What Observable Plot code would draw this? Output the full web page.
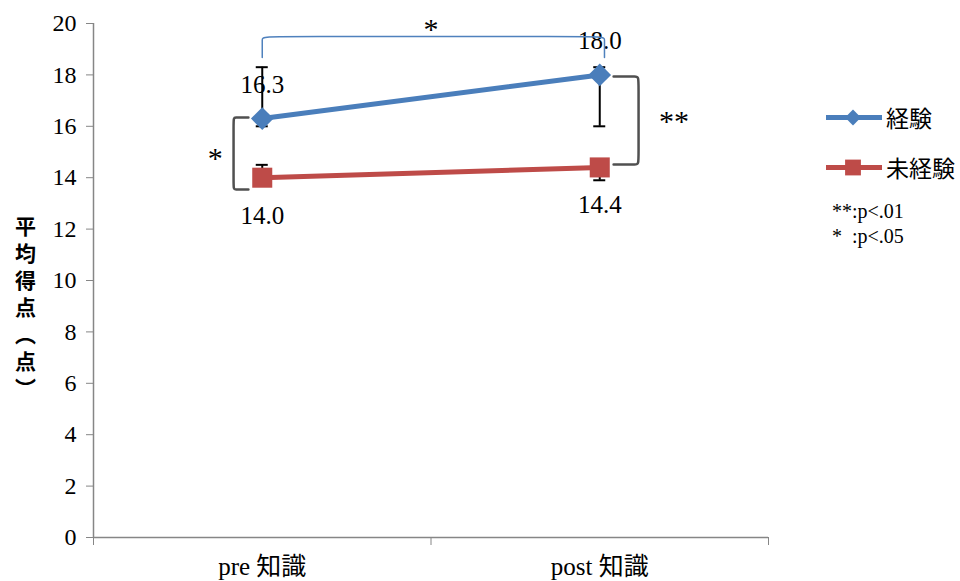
<!DOCTYPE html>
<html>
<head>
<meta charset="utf-8">
<script src="https://cdn.jsdelivr.net/npm/d3@7"></script>
<script src="https://cdn.jsdelivr.net/npm/@observablehq/plot@0.6"></script>
<style>
  body { margin: 0; background: #fff; }
  #chart { position: relative; width: 960px; height: 581px; }
  .legend { position: absolute; left: 826px; top: 105px; }
  .legend .item { display: flex; align-items: center; height: 25px; margin-bottom: 25px; }
  .legend .item span { margin-left: 4px; font-family: "Noto Sans CJK JP", sans-serif; font-size: 23px; color: #000; line-height: 25px; }
  .legend .note { margin-left: 6px; margin-top: -6px; font-family: "Liberation Serif", "DejaVu Serif", serif; font-size: 20px; line-height: 25px; white-space: pre; color: #000; }
</style>
</head>
<body>
<div id="chart"></div>
<script>
// Mean test scores (points) before and after, by prior experience
const categories = ["pre 知識", "post 知識"];
const groups = ["経験", "未経験"];
const experiencedMeans = [16.3, 18.0];
const inexperiencedMeans = [14.0, 14.4];
// Error bar extents
const experiencedLow = [16.0, 16.0];
const experiencedHigh = [18.3, 18.3];
const inexperiencedLow = [14.0, 13.9];
const inexperiencedHigh = [14.5, 14.4];
const yTicks = [0, 2, 4, 6, 8, 10, 12, 14, 16, 18, 20];
const yTitle = "平均得点（点）";
const legendNotes = ["**:p<.01", "*  :p<.05"];

const colors = ["#4a7ebb", "#be4b48"];
const serif = `"Liberation Serif", "DejaVu Serif", "Noto Sans CJK JP", serif`;
const axisGray = "#868686";

// One row per group and time point; x positions sit at band centres of a [0, 2] axis
const rows = categories.flatMap((cat, i) => [
  {cat, pos: i + 0.5, group: groups[0], mean: experiencedMeans[i], lo: experiencedLow[i], hi: experiencedHigh[i]},
  {cat, pos: i + 0.5, group: groups[1], mean: inexperiencedMeans[i], lo: inexperiencedLow[i], hi: inexperiencedHigh[i]}
]);
const exp = rows.filter(d => d.group === groups[0]);
const inexp = rows.filter(d => d.group === groups[1]);

// Significance brackets (axis units) and their star labels
const bracketPrePost = [[0.5, 18.68], [0.5, 19.49], [0.5, 19.49], [1.514, 19.49], [1.514, 19.49], [1.514, 18.68]];
const bracketPre = [[0.459, 16.34], [0.415, 16.34], [0.415, 16.34], [0.415, 13.54], [0.415, 13.54], [0.459, 13.54]];
const bracketPost = [[1.541, 17.94], [1.615, 17.94], [1.615, 17.94], [1.615, 14.51], [1.615, 14.51], [1.541, 14.51]];
const stars = [
  {x: 1.0, y: 19.79, label: "*"},
  {x: 0.361, y: 14.77, label: "*"},
  {x: 1.72, y: 16.2, label: "**"}
];

const chart = Plot.plot({
  width: 960,
  height: 581,
  marginLeft: 93,
  marginRight: 192,
  marginTop: 23,
  marginBottom: 44,
  style: {fontFamily: serif, fontSize: "24px", background: "#fff", color: "#000", overflow: "visible"},
  x: {domain: [0, 2]},
  y: {domain: [0, 20]},
  color: {domain: groups, range: colors},
  marks: [
    // axes
    Plot.axisY(yTicks, {tickSize: 7, tickPadding: 10, stroke: axisGray, fill: "#000", fontSize: 24, fontFamily: serif, tickFormat: d => String(d)}),
    Plot.axisX([0, 1, 2], {tickSize: 8, stroke: axisGray, tickFormat: () => ""}),
    Plot.axisX([0.5, 1.5], {tickSize: 0, tickPadding: 20, fill: "#000", fontSize: 25, fontFamily: serif, tickFormat: d => categories[Math.floor(d)]}),
    Plot.ruleX([0], {stroke: axisGray, strokeWidth: 1.5}),
    Plot.ruleY([0], {stroke: axisGray, strokeWidth: 1.5}),
    // y-axis title, set vertically
    Plot.text([yTitle], {
      frameAnchor: "left", textAnchor: "middle", dx: -68, dy: 26,
      text: d => Array.from(d.replace("（", "︵").replace("）", "︶")).join("\n"),
      lineHeight: 1.28, fontSize: 21, fontWeight: "bold", fontFamily: `"Noto Sans CJK JP", sans-serif`
    }),
    // series lines
    Plot.line(rows, {x: "pos", y: "mean", z: "group", stroke: "group", strokeWidth: 5}),
    // error bars
    Plot.ruleX(rows, {x: "pos", y1: "lo", y2: "hi", stroke: "#000", strokeWidth: 2}),
    Plot.ruleY(rows, {x1: "pos", x2: "pos", y: "lo", insetLeft: -6, insetRight: -6, stroke: "#000", strokeWidth: 2}),
    Plot.ruleY(rows, {x1: "pos", x2: "pos", y: "hi", insetLeft: -6, insetRight: -6, stroke: "#000", strokeWidth: 2}),
    // markers
    Plot.dot(exp, {x: "pos", y: "mean", symbol: "diamond2", fill: "group", r: 10.2}),
    Plot.dot(inexp, {x: "pos", y: "mean", symbol: "square", fill: "group", r: 11.3}),
    // value labels
    Plot.text(exp, {x: "pos", y: "mean", text: d => d.mean.toFixed(1), dy: -34, fontSize: 25, fontFamily: serif}),
    Plot.text(inexp, {x: "pos", y: "mean", text: d => d.mean.toFixed(1), dy: 38, fontSize: 25, fontFamily: serif}),
    // significance brackets
    Plot.line(bracketPrePost, {x: d => d[0], y: d => d[1], curve: "basis", stroke: "#4f81bd", strokeWidth: 1.5}),
    Plot.line(bracketPre, {x: d => d[0], y: d => d[1], curve: "basis", stroke: "#505050", strokeWidth: 2.5}),
    Plot.line(bracketPost, {x: d => d[0], y: d => d[1], curve: "basis", stroke: "#505050", strokeWidth: 2.5}),
    Plot.text(stars, {x: "x", y: "y", text: "label", fontSize: 30, fontFamily: serif})
  ]
});

const root = document.getElementById("chart");
root.appendChild(chart);

// Legend: series swatches plus significance key
const legend = d3.select(root).append("div").attr("class", "legend");
groups.forEach((g, i) => {
  const item = legend.append("div").attr("class", "item");
  const svg = item.append("svg").attr("width", 56).attr("height", 25);
  svg.append("line").attr("x1", 0).attr("x2", 56).attr("y1", 12.5).attr("y2", 12.5)
    .attr("stroke", colors[i]).attr("stroke-width", 5).attr("stroke-linecap", "round");
  const sym = i === 0 ? d3.symbolDiamond2 : d3.symbolSquare;
  const size = i === 0 ? 160 : 250;
  svg.append("path").attr("transform", "translate(27,12.5)")
    .attr("d", d3.symbol(sym, size)()).attr("fill", colors[i]);
  item.append("span").text(g);
});
legend.append("div").attr("class", "note").text(legendNotes.join("\n"));
</script>
</body>
</html>
